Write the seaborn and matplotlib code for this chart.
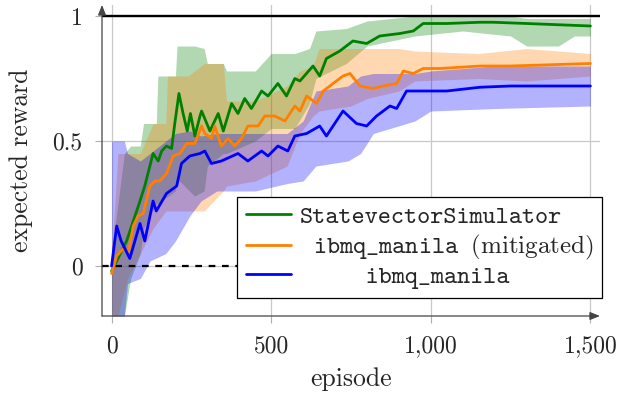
import numpy as np
import pandas as pd
import matplotlib
matplotlib.use("Agg")
import matplotlib.pyplot as plt
import seaborn as sns

# ---------------- data ----------------
green_ep = [0, 20, 47, 68, 89, 104, 120, 130, 146, 157, 172, 188, 198, 211, 224, 237, 247, 261,
            277, 282, 308, 334, 350, 376, 396, 417, 438, 470, 490, 521, 548, 574, 590, 631,
            652, 673, 715, 756, 799, 840, 903, 945, 976, 1050, 1154, 1195, 1300, 1500]
green_val = [-0.02, 0.03, 0.10, 0.18, 0.26, 0.32, 0.40, 0.45, 0.42, 0.46, 0.48, 0.47, 0.57, 0.69,
             0.61, 0.54, 0.61, 0.52, 0.60, 0.62, 0.54, 0.61, 0.54, 0.65, 0.61, 0.67, 0.63, 0.70,
             0.68, 0.73, 0.68, 0.75, 0.74, 0.80, 0.76, 0.83, 0.86, 0.90, 0.89, 0.92, 0.93, 0.94,
             0.97, 0.97, 0.975, 0.975, 0.97, 0.96]

orange_ep = [0, 16, 37, 52, 68, 83, 99, 120, 136, 151, 172, 193, 214, 235, 261, 282, 292, 313,
             323, 344, 365, 386, 407, 427, 459, 480, 511, 543, 574, 590, 611, 642, 663, 694,
             725, 747, 778, 819, 851, 893, 914, 945, 976, 1029, 1154, 1248, 1500]
orange_val = [-0.03, 0.04, 0.07, 0.05, 0.16, 0.20, 0.21, 0.32, 0.34, 0.34, 0.37, 0.44, 0.45, 0.49,
              0.49, 0.56, 0.53, 0.51, 0.56, 0.48, 0.51, 0.48, 0.51, 0.56, 0.56, 0.60, 0.60, 0.58,
              0.64, 0.62, 0.68, 0.65, 0.70, 0.73, 0.76, 0.77, 0.72, 0.71, 0.72, 0.73, 0.78, 0.77,
              0.79, 0.79, 0.80, 0.80, 0.81]

blue_ep = [0, 16, 30, 57, 89, 104, 130, 140, 172, 204, 219, 245, 277, 292, 313, 344, 396, 427,
           470, 490, 521, 552, 574, 611, 652, 673, 725, 767, 799, 830, 872, 893, 924, 966, 997,
           1050, 1154, 1250, 1350, 1500]
blue_val = [0.00, 0.16, 0.10, 0.03, 0.17, 0.10, 0.26, 0.22, 0.29, 0.32, 0.41, 0.44, 0.45, 0.46,
            0.41, 0.42, 0.45, 0.42, 0.46, 0.44, 0.48, 0.46, 0.52, 0.53, 0.56, 0.52, 0.62, 0.57,
            0.56, 0.60, 0.64, 0.63, 0.70, 0.70, 0.70, 0.70, 0.715, 0.72, 0.72, 0.72]

# raw-episode spread (lower / upper envelopes of the faint curves)
green_band_ep = [0, 40, 60, 90, 100, 140, 145, 200, 205, 260, 290, 300, 350, 360, 450, 500, 574,
                 620, 640, 735, 800, 950, 1100, 1250, 1300, 1400, 1450, 1500]
green_band_lo = [-0.20, -0.20, -0.05, 0.05, 0.15, 0.25, 0.25, 0.30, 0.35, 0.28, 0.30, 0.40, 0.45,
                 0.45, 0.50, 0.55, 0.55, 0.65, 0.75, 0.81, 0.88, 0.92, 0.94, 0.92, 0.88, 0.88,
                 0.92, 0.92]
green_band_hi = [0.05, 0.45, 0.48, 0.48, 0.57, 0.57, 0.76, 0.76, 0.88, 0.88, 0.87, 0.81, 0.81,
                 0.78, 0.78, 0.85, 0.85, 0.87, 0.94, 0.95, 0.98, 1.00, 1.00, 1.00, 0.99, 0.99,
                 0.99, 0.99]

orange_band_ep = [0, 20, 50, 90, 130, 170, 175, 240, 290, 350, 360, 450, 550, 590, 631, 650, 750,
                  800, 900, 950, 1150, 1300, 1500]
orange_band_lo = [-0.20, -0.20, -0.05, 0.05, 0.15, 0.22, 0.22, 0.22, 0.22, 0.30, 0.32, 0.34, 0.40,
                  0.53, 0.60, 0.62, 0.64, 0.67, 0.70, 0.74, 0.75, 0.74, 0.76]
orange_band_hi = [0.05, 0.45, 0.45, 0.45, 0.57, 0.57, 0.76, 0.76, 0.81, 0.81, 0.66, 0.66, 0.72,
                  0.78, 0.80, 0.87, 0.87, 0.87, 0.87, 0.86, 0.85, 0.87, 0.85]

blue_band_ep = [0, 40, 50, 90, 120, 170, 200, 245, 280, 330, 450, 550, 600, 640, 740, 780, 820,
                950, 1000, 1200, 1500]
blue_band_lo = [-0.20, -0.20, -0.07, -0.05, 0.02, 0.05, 0.10, 0.20, 0.26, 0.30, 0.30, 0.33, 0.34,
                0.40, 0.42, 0.45, 0.53, 0.58, 0.62, 0.63, 0.64]
blue_band_hi = [0.50, 0.50, 0.45, 0.42, 0.45, 0.50, 0.53, 0.54, 0.52, 0.53, 0.53, 0.53, 0.58,
                0.70, 0.72, 0.76, 0.77, 0.77, 0.78, 0.80, 0.80]

series_names = ["StatevectorSimulator", "ibmq_manila (mitigated)", "ibmq_manila"]
legend_labels = ["StatevectorSimulator", r" ibmq_manila $\mathrm{(mitigated)}$", "     ibmq_manila"]
x_ticks = [0, 500, 1000, 1500]
x_tick_labels = ["0", "500", "1,000", "1,500"]
y_ticks = [0, 0.5, 1]
y_tick_labels = ["0", "0.5", "1"]
x_label = "episode"
y_label = "expected reward"

# ---------------- style ----------------
sns.set_theme(style="white")
plt.rcParams["font.family"] = ["cmr10", "DejaVu Serif"]
plt.rcParams["mathtext.fontset"] = "cm"
plt.rcParams["axes.unicode_minus"] = False
plt.rcParams["axes.formatter.use_mathtext"] = True

GREEN = (0.0, 0.5, 0.0)
ORANGE = (1.0, 0.5, 0.0)
BLUE = (0.0, 0.0, 1.0)
colors = [GREEN, ORANGE, BLUE]

fig = plt.figure(figsize=(6.19, 3.98), dpi=100)
ax = fig.add_axes([102 / 619, (398 - 316) / 398, (600 - 102) / 619, 311 / 398])

# light bands
bands = [(green_band_ep, green_band_lo, green_band_hi),
         (orange_band_ep, orange_band_lo, orange_band_hi),
         (blue_band_ep, blue_band_lo, blue_band_hi)]
for (bx, lo, hi), c in zip(bands, colors):
    ax.fill_between(bx, lo, hi, color=c, alpha=0.3, linewidth=0, zorder=2)

# reference lines
ax.axhline(1, color="black", lw=1.7, zorder=3)
ax.axhline(0, color="black", lw=1.6, ls=(0, (3, 3)), zorder=3)

# smoothed lines
dfs = [pd.DataFrame({"episode": green_ep, "reward": green_val}),
       pd.DataFrame({"episode": orange_ep, "reward": orange_val}),
       pd.DataFrame({"episode": blue_ep, "reward": blue_val})]
handles = []
for df, c, name in zip(dfs, colors, series_names):
    sns.lineplot(data=df, x="episode", y="reward", color=c, lw=2.0, ax=ax,
                 estimator=None, sort=False, zorder=4)
    handles.append(ax.lines[-1])

ax.set_xlim(-30, 1530)
ax.set_ylim(-0.2, 1.044)

ax.set_xticks(x_ticks)
ax.set_xticklabels(x_tick_labels)
ax.set_yticks(y_ticks)
ax.set_yticklabels(y_tick_labels)
ax.tick_params(axis="both", which="major", labelsize=17, length=5, width=0.8,
               color="#b0b0b0", direction="out", pad=9, bottom=True, left=True)
ax.grid(True, color="#c8c8c8", lw=0.9, zorder=0)
ax.set_axisbelow(True)

ax.set_xlabel(x_label, fontsize=18.5, labelpad=7)
ax.set_ylabel(y_label, fontsize=18.5, labelpad=14)

for side in ["top", "right", "left", "bottom"]:
    ax.spines[side].set_visible(False)
# arrow axes
ax.annotate("", xy=(0, 1.0), xytext=(0, 0), xycoords="axes fraction",
            arrowprops=dict(arrowstyle="-|>,head_length=0.5,head_width=0.2", color="#444444",
                            lw=0.9, shrinkA=0, shrinkB=0), zorder=6)
ax.annotate("", xy=(1.0, 0), xytext=(0, 0), xycoords="axes fraction",
            arrowprops=dict(arrowstyle="-|>,head_length=0.5,head_width=0.2", color="#444444",
                            lw=0.9, shrinkA=0, shrinkB=0), zorder=6)

leg = ax.legend(handles, legend_labels, loc="upper right", bbox_to_anchor=(1.004, 0.383),
                prop={"family": "cmtt10", "size": 18}, frameon=True, fancybox=False,
                framealpha=1, edgecolor="black", handlelength=1.8, handletextpad=0.35,
                labelspacing=0.15, borderpad=0.35, borderaxespad=0)
leg.get_frame().set_linewidth(0.9)
leg.set_zorder(10)

fig.savefig("out.png", dpi=100)
